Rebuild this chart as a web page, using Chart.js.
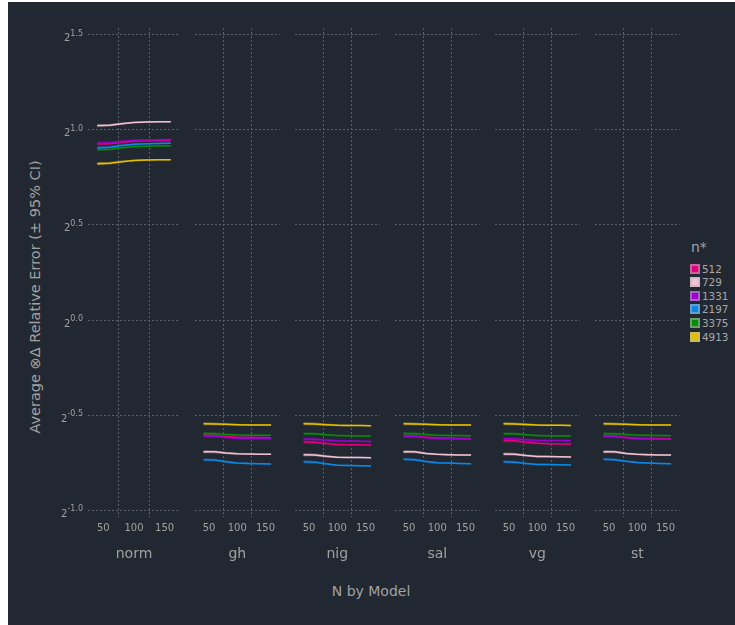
<!DOCTYPE html>
<html>
<head>
<meta charset="utf-8">
<script src="https://cdn.jsdelivr.net/npm/chart.js"></script>
<style>
  html, body { margin: 0; padding: 0; background: #fff; }
  body { width: 735px; height: 625px; position: relative; overflow: hidden;
         font-family: "DejaVu Sans", sans-serif; }
  #bg { position: absolute; left: 8px; top: 2px; width: 727px; height: 623px; background: #222831; }
  .panel { position: absolute; top: 2px; }
  .txt { position: absolute; color: #a1a1a1; white-space: nowrap; }
  #ytitle { left: 35px; top: 297px; font-size: 14.5px; transform: translate(-50%, -50%) rotate(-90deg); }
  #xtitle { left: 371px; top: 591px; font-size: 14px; transform: translate(-50%, -50%); }
  #ktitle { left: 691px; top: 247px; font-size: 14px; transform: translateY(-50%); }
  .key { position: absolute; left: 690px; width: 10px; height: 10px; box-sizing: border-box; border: 2px solid; }
  .klab { position: absolute; left: 702px; font-size: 10.4px; color: #a8a8a8; transform: translateY(-50%); }
</style>
</head>
<body>
<div id="bg"></div>
<div id="ytitle" class="txt">Average ⊗Δ Relative Error (± 95% CI)</div>
<div id="xtitle" class="txt">N by Model</div>
<div id="ktitle" class="txt">n*</div>
<script>
/* facetted log2 error plot, one Chart.js canvas per model */

const FONT  = '"DejaVu Sans", sans-serif';
const LABEL = '#a1a1a1';
const GRID  = '#5b6069';

// ---- data ----
const N_VALUES = [40, 60, 80, 100, 120, 140, 160];
const N_STAR   = ['512', '729', '1331', '2197', '3375', '4913'];
const MODELS   = ['norm', 'gh', 'nig', 'sal', 'vg', 'st'];
const X_LABELS = [50, 100, 150];
const X_GRID   = [75, 125];
const Y_TICKS  = [-1.0, -0.5, 0.0, 0.5, 1.0, 1.5];   // log2 units
const COLORS   = ['#e0007f', '#f4c0d4', '#9a00d0', '#0a88e8', '#0a8a0a', '#e6c000'];

// half width of the 95% CI (log2 units)
const CI_HALF = [0.008, 0.007, 0.006, 0.005, 0.005, 0.004, 0.004];

// log2(avg relative error), rows follow N_STAR, columns follow N_VALUES
const ERR_NORM = [
  [0.927, 0.928, 0.935, 0.941, 0.943, 0.944, 0.945],
  [1.023, 1.025, 1.033, 1.040, 1.042, 1.043, 1.044],
  [0.931, 0.933, 0.940, 0.946, 0.948, 0.949, 0.950],
  [0.907, 0.909, 0.918, 0.925, 0.927, 0.929, 0.930],
  [0.896, 0.898, 0.906, 0.912, 0.914, 0.916, 0.917],
  [0.823, 0.825, 0.833, 0.840, 0.842, 0.843, 0.844],
];
const ERR_GH = [
  [-0.607, -0.608, -0.613, -0.617, -0.618, -0.619, -0.620],
  [-0.693, -0.694, -0.700, -0.704, -0.705, -0.706, -0.707],
  [-0.611, -0.612, -0.618, -0.622, -0.623, -0.624, -0.625],
  [-0.735, -0.737, -0.746, -0.753, -0.755, -0.757, -0.758],
  [-0.597, -0.598, -0.602, -0.605, -0.606, -0.606, -0.607],
  [-0.546, -0.547, -0.549, -0.551, -0.552, -0.552, -0.553],
];
const ERR_NIG = [
  [-0.642, -0.643, -0.650, -0.655, -0.656, -0.657, -0.658],
  [-0.709, -0.710, -0.717, -0.722, -0.723, -0.724, -0.725],
  [-0.626, -0.627, -0.632, -0.636, -0.637, -0.638, -0.639],
  [-0.746, -0.748, -0.757, -0.764, -0.766, -0.767, -0.768],
  [-0.598, -0.599, -0.604, -0.608, -0.609, -0.610, -0.611],
  [-0.546, -0.547, -0.551, -0.554, -0.555, -0.555, -0.556],
];
const ERR_SAL = [
  [-0.610, -0.611, -0.617, -0.621, -0.622, -0.623, -0.624],
  [-0.693, -0.694, -0.702, -0.707, -0.709, -0.710, -0.711],
  [-0.612, -0.613, -0.619, -0.623, -0.624, -0.625, -0.626],
  [-0.733, -0.735, -0.745, -0.751, -0.753, -0.755, -0.756],
  [-0.597, -0.598, -0.603, -0.607, -0.608, -0.608, -0.609],
  [-0.546, -0.547, -0.549, -0.551, -0.552, -0.552, -0.553],
];
const ERR_VG = [
  [-0.635, -0.636, -0.644, -0.649, -0.651, -0.652, -0.653],
  [-0.705, -0.706, -0.713, -0.718, -0.719, -0.720, -0.721],
  [-0.625, -0.626, -0.630, -0.633, -0.634, -0.634, -0.635],
  [-0.746, -0.748, -0.755, -0.760, -0.761, -0.762, -0.763],
  [-0.598, -0.599, -0.604, -0.608, -0.609, -0.610, -0.611],
  [-0.546, -0.547, -0.550, -0.553, -0.554, -0.554, -0.555],
];
const ERR_ST = [
  [-0.611, -0.612, -0.618, -0.622, -0.623, -0.624, -0.625],
  [-0.693, -0.694, -0.702, -0.707, -0.709, -0.710, -0.711],
  [-0.612, -0.613, -0.619, -0.624, -0.626, -0.627, -0.628],
  [-0.733, -0.735, -0.744, -0.750, -0.753, -0.755, -0.756],
  [-0.598, -0.599, -0.603, -0.606, -0.607, -0.608, -0.609],
  [-0.546, -0.547, -0.549, -0.551, -0.552, -0.552, -0.553],
];
const ERR_BY_MODEL = [ERR_NORM, ERR_GH, ERR_NIG, ERR_SAL, ERR_VG, ERR_ST];

// ---- layout (px) ----
const PANEL_LEFT  = [88, 195, 295, 395, 495, 595];
const PANEL_RIGHT = [180, 280, 380, 480, 580, 680];
const CANVAS_H = 600;

function hexA(hex, a) {
  const n = parseInt(hex.slice(1), 16);
  return `rgba(${n >> 16},${(n >> 8) & 255},${n & 255},${a})`;
}
function mix(hex, other, t) {
  const a = parseInt(hex.slice(1), 16), b = parseInt(other.slice(1), 16);
  const c = (s) => Math.round(((a >> s) & 255) * (1 - t) + ((b >> s) & 255) * t);
  return `rgb(${c(16)},${c(8)},${c(0)})`;
}

// y tick labels as 2^x with a raised exponent
const pow2Labels = {
  id: 'pow2Labels',
  afterDraw(chart) {
    const { ctx, chartArea } = chart;
    const y = chart.scales.y;
    ctx.save();
    ctx.fillStyle = LABEL;
    ctx.textAlign = 'left';
    ctx.textBaseline = 'alphabetic';
    Y_TICKS.forEach(v => {
      const py = y.getPixelForValue(v);
      const exp = v.toFixed(1);
      ctx.font = '8px ' + FONT;
      const we = ctx.measureText(exp).width;
      ctx.font = '10px ' + FONT;
      const wb = ctx.measureText('2').width;
      const x0 = chartArea.left - 5 - we - wb;
      ctx.fillText('2', x0, py + 6.5);
      ctx.font = '8px ' + FONT;
      ctx.fillText(exp, x0 + wb, py + 1);
    });
    ctx.restore();
  }
};

function drawPanel(i) {
  const first = i === 0;
  const left = first ? 8 : PANEL_LEFT[i];
  const width = PANEL_RIGHT[i] - left;
  const canvas = document.createElement('canvas');
  canvas.className = 'panel';
  canvas.width = width;
  canvas.height = CANVAS_H;
  canvas.style.left = left + 'px';
  document.body.appendChild(canvas);

  const rows = ERR_BY_MODEL[i];
  const datasets = [];
  rows.forEach((vals, s) => {
    datasets.push({
      data: N_VALUES.map((n, k) => ({ x: n, y: vals[k] - CI_HALF[k] })),
      borderWidth: 0, fill: false, order: 100,
    });
    datasets.push({
      data: N_VALUES.map((n, k) => ({ x: n, y: vals[k] + CI_HALF[k] })),
      borderWidth: 0, fill: '-1', backgroundColor: hexA(COLORS[s], 0.35), order: 100,
    });
    datasets.push({
      label: N_STAR[s],
      data: N_VALUES.map((n, k) => ({ x: n, y: vals[k] })),
      borderColor: COLORS[s], borderWidth: 1.5, fill: false, order: -s,
    });
  });

  new Chart(canvas, {
    type: 'line',
    data: { datasets },
    options: {
      responsive: false, animation: false, devicePixelRatio: 1,
      layout: { padding: { top: 26, left: 0, right: 0, bottom: 0 } },
      elements: { point: { radius: 0 }, line: { tension: 0 } },
      plugins: { legend: { display: false }, tooltip: { enabled: false } },
      scales: {
        x: {
          type: 'linear', min: 25, max: 175,
          afterBuildTicks: (s) => {
            s.ticks = [...X_LABELS, ...X_GRID].sort((a, b) => a - b).map(v => ({ value: v }));
          },
          afterFit: (s) => { s.height = 85; },
          ticks: {
            autoSkip: false, maxRotation: 0, padding: 5, color: LABEL,
            font: { family: FONT, size: 10 },
            callback: (v) => X_LABELS.includes(v) ? String(v) : '',
          },
          grid: {
            drawTicks: false,
            color: (c) => (c.tick && X_GRID.includes(c.tick.value)) ? GRID : 'rgba(0,0,0,0)',
          },
          border: { display: false, dash: [2, 2] },
          title: {
            display: true, text: MODELS[i], color: LABEL,
            font: { family: FONT, size: 14 },
            padding: { top: 39, bottom: 39 },
          },
        },
        y: {
          min: -1.0368, max: 1.5368,
          afterBuildTicks: (s) => { s.ticks = Y_TICKS.map(v => ({ value: v })); },
          afterFit: (s) => { s.width = first ? 80 : 0; },
          ticks: { display: false },
          grid: { color: GRID, drawTicks: false },
          border: { display: false, dash: [2, 2] },
        },
      },
    },
    plugins: first ? [pow2Labels] : [],
  });
}

function drawKey() {
  N_STAR.forEach((name, s) => {
    const cy = 268.5 + 13.6 * s;
    const sq = document.createElement('div');
    sq.className = 'key';
    sq.style.top = (cy - 5) + 'px';
    sq.style.background = COLORS[s];
    sq.style.borderColor = mix(COLORS[s], '#b4b4b4', 0.55);
    document.body.appendChild(sq);
    const lab = document.createElement('div');
    lab.className = 'klab';
    lab.style.top = cy + 'px';
    lab.textContent = name;
    document.body.appendChild(lab);
  });
}

MODELS.forEach((m, i) => drawPanel(i));
drawKey();
</script>
</body>
</html>
